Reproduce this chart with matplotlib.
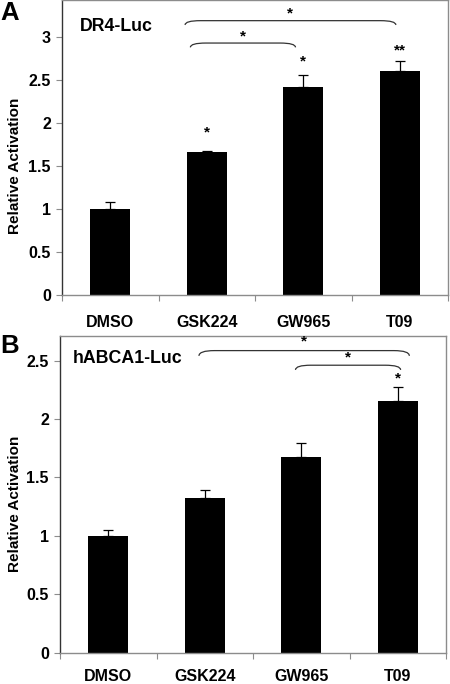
import matplotlib
matplotlib.use("Agg")
import matplotlib.pyplot as plt
from matplotlib.path import Path
from matplotlib.patches import PathPatch
from matplotlib.ticker import FuncFormatter, FixedLocator

plt.rcParams['font.family'] = ['Liberation Sans', 'DejaVu Sans']
plt.rcParams['font.weight'] = 'bold'

categories = ["DMSO", "GSK224", "GW965", "T09"]

a_values = [1.00, 1.66, 2.415, 2.60]
a_errors = [0.085, 0.02, 0.14, 0.125]
a_title = "DR4-Luc"

b_values = [1.00, 1.325, 1.673, 2.15]
b_errors = [0.05, 0.065, 0.12, 0.12]
b_title = "hABCA1-Luc"

a_yticks = [0, 0.5, 1, 1.5, 2, 2.5, 3]
b_yticks = [0, 0.5, 1, 1.5, 2, 2.5]

# significance marks: (x, y, text)
a_stars = [(1, 1.89, "*"), (2, 2.72, "*"), (3, 2.84, "**")]
b_stars = [(3, 2.35, "*")]
# brackets: (x1, x2, y_top, y_end, star_y)
a_brackets = [(0.775, 2.96, 3.19, 3.14, 3.27), (0.83, 1.92, 2.93, 2.88, 3.01)]
b_brackets = [(0.94, 3.12, 2.585, 2.54, 2.66), (1.94, 3.03, 2.46, 2.42, 2.53)]

fig = plt.figure(figsize=(4.5, 6.84), dpi=100)
grey = "#8c8c8c"


def bracket(ax, x1, x2, yt, ye, sy):
    r = 0.16
    verts = [(x1, ye), (x1, yt), (x1 + r, yt), (x2 - r, yt),
             (x2, yt), (x2, ye)]
    codes = [Path.MOVETO, Path.CURVE3, Path.CURVE3, Path.LINETO,
             Path.CURVE3, Path.CURVE3]
    ax.add_patch(PathPatch(Path(verts, codes), fc="none", ec="#333333",
                           lw=0.9, clip_on=False))
    ax.text((x1 + x2) / 2, sy, "*", ha="center", va="center",
            fontsize=11, fontweight="bold")


def panel(rect, values, errors, yticks, ylim, title, stars, brackets,
          letter, letter_pos, title_pos, ylabel_coords, xpad):
    ax = fig.add_axes(rect)
    x = list(range(len(categories)))
    ax.bar(x, values, width=0.41, color="black", zorder=2)
    ax.errorbar(x, values, yerr=[[0] * len(errors), errors], fmt="none",
                ecolor="black", elinewidth=0.9, capsize=3.5, capthick=0.9,
                zorder=3)
    ax.set_xlim(-0.5, len(categories) - 0.5)
    ax.set_ylim(*ylim)
    ax.set_yticks(yticks)
    ax.yaxis.set_major_formatter(FuncFormatter(lambda v, p: "%g" % v))
    ax.set_xticks(x)
    ax.set_xticklabels(categories)
    ax.xaxis.set_minor_locator(FixedLocator([i + 0.5 for i in range(-1, len(categories))]))
    ax.tick_params(axis="x", which="major", length=0, pad=xpad, labelsize=11.5)
    ax.tick_params(axis="x", which="minor", length=4, color=grey, width=0.8)
    ax.tick_params(axis="y", length=4, width=0.8, color=grey, labelsize=11.5, pad=4)
    for lab in ax.get_xticklabels() + ax.get_yticklabels():
        lab.set_fontweight("bold")
    ax.spines["left"].set_color("#333333")
    for s in ["top", "right", "bottom"]:
        ax.spines[s].set_color(grey)
    for s in ax.spines.values():
        s.set_linewidth(1.0)
    ax.set_ylabel("Relative Activation", fontsize=11, fontweight="bold")
    ax.yaxis.set_label_coords(*ylabel_coords)
    ax.text(title_pos[0], title_pos[1], title, transform=ax.transAxes,
            fontsize=12.8, fontweight="bold", ha="left", va="center")
    for sx, sy, t in stars:
        ax.text(sx, sy, t, ha="center", va="center", fontsize=11,
                fontweight="bold")
    for b in brackets:
        bracket(ax, *b)
    fig.text(letter_pos[0], letter_pos[1], letter, fontsize=18.5,
             fontweight="bold", ha="left", va="top")
    return ax


panel([62 / 450, 1 - 295.3 / 684, 386 / 450, 295.3 / 684], a_values, a_errors,
      a_yticks, (0, 3.43), a_title, a_stars, a_brackets, "A",
      (0.0, 1 - 1.5 / 684), (0.046, 0.91), (-0.104, 0.44), 14)
panel([60 / 450, 1 - 652.7 / 684, 386 / 450, (652.7 - 336) / 684], b_values,
      b_errors, b_yticks, (0, 2.71), b_title, b_stars, b_brackets, "B",
      (0.0, 1 - 334 / 684), (0.034, 0.93), (-0.098, 0.47), 12)

fig.savefig("out.png", dpi=100)
